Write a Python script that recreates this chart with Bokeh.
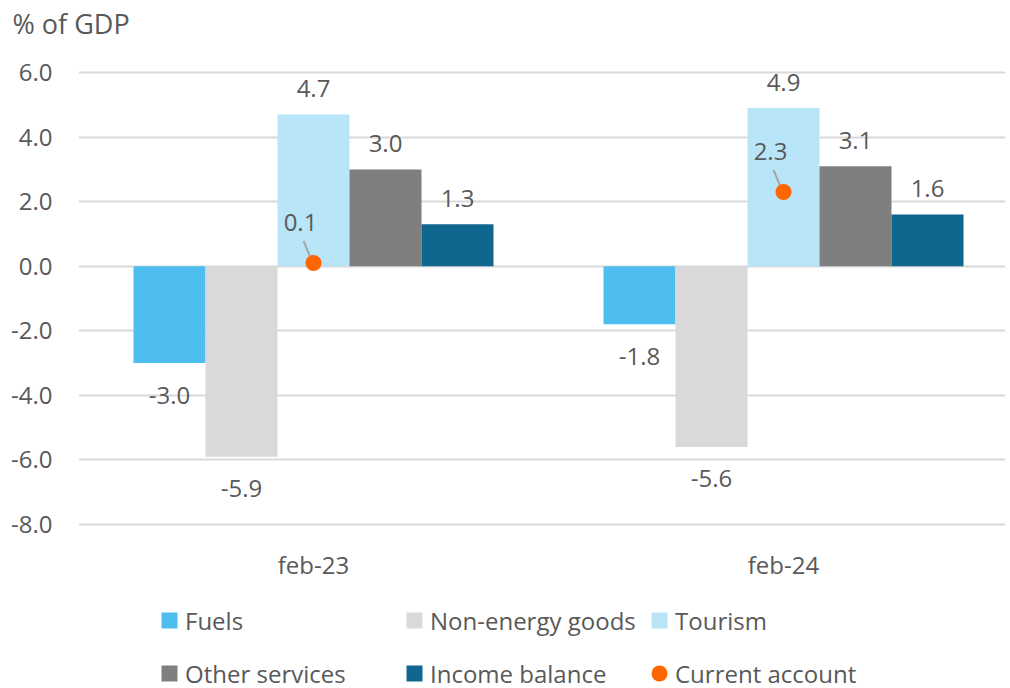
from bokeh.plotting import figure
from bokeh.models import Range1d, FixedTicker, NumeralTickFormatter, Legend, LegendItem, Title
from bokeh.core.properties import value
from bokeh.embed import file_html
from bokeh.resources import INLINE

# ---------------- data ----------------
categories = ["feb-23", "feb-24"]
series = ["Fuels", "Non-energy goods", "Tourism", "Other services", "Income balance"]
fuels = [-3.0, -1.8]
non_energy_goods = [-5.9, -5.6]
tourism = [4.7, 4.9]
other_services = [3.0, 3.1]
income_balance = [1.3, 1.6]
current_account = [0.1, 2.3]
y_ticks = [-8, -6, -4, -2, 0, 2, 4, 6]

series_values = [fuels, non_energy_goods, tourism, other_services, income_balance]
colors = ["#4DBEEE", "#D9D9D9", "#B9E5F9", "#7F7F7F", "#0F6790"]
ca_color = "#FF6600"

# ---------------- layout ----------------
W, H = 1010, 688
LEFT, TOP = 78, 64
FW = 927
FH = H - TOP                  # frame runs to the bottom; legend lives inside it
PAD_Y = 0.25
PX_X = 470.0                  # pixels per category
X_END = FW / PX_X
PX_Y = 468 / (y_ticks[-1] - y_ticks[0] + 2 * PAD_Y)
Y_END = y_ticks[-1] + PAD_Y
Y_START = Y_END - FH / PX_Y
BAR_W = 72 / PX_X

FONT_NAME = "Open Sans"
FONT = value(FONT_NAME)
TXT = "#595959"
FS = "24px"

p = figure(width=W, height=H, x_range=Range1d(0, X_END), y_range=Range1d(Y_START, Y_END),
           output_backend="svg", toolbar_location=None,
           min_border_left=LEFT, min_border_right=W - LEFT - FW,
           min_border_top=TOP, min_border_bottom=0)
p.outline_line_color = None
p.background_fill_color = "white"
p.border_fill_color = "white"

# title (outermost) and an invisible spacer between it and the frame
p.title.text = "% of GDP"
p.title.text_font = FONT_NAME
p.title.text_font_size = "27px"
p.title.text_font_style = "normal"
p.title.text_color = TXT
p.title.align = "left"
p.title.offset = -66
p.title.standoff = 0
p.add_layout(Title(text=" ", text_font_size="1px", standoff=20), "above")

xc = [i + 0.5 for i in range(len(categories))]

bar_renderers = []
for k, (vals, col) in enumerate(zip(series_values, colors)):
    xs = [c + (k - 2) * BAR_W for c in xc]
    r = p.vbar(x=xs, top=vals, bottom=0, width=BAR_W, fill_color=col, line_color=None)
    bar_renderers.append(r)
    p.text(x=xs, y=vals, text=[f"{v:.1f}" for v in vals],
           y_offset=[-26 if v >= 0 else 32 for v in vals],
           text_align="center", text_baseline="middle", text_font=FONT,
           text_font_size=FS, text_color=TXT)

# leader lines for current account labels
p.segment(x0=[c - 10 / PX_X for c in xc], y0=[v + 22 / PX_Y for v in current_account],
          x1=[c - 2 / PX_X for c in xc], y1=[v + 3 / PX_Y for v in current_account],
          line_color="#A6A6A6", line_width=2)
dot = p.ellipse(x=xc, y=current_account, width=16, height=16,
                width_units="screen", height_units="screen",
                fill_color=ca_color, line_color=None)
p.text(x=xc, y=current_account, text=[f"{v:.1f}" for v in current_account],
       x_offset=-13, y_offset=-40, text_align="center", text_baseline="middle",
       text_font=FONT, text_font_size=FS, text_color=TXT)

# axes
p.xgrid.grid_line_color = None
p.yaxis.ticker = FixedTicker(ticks=y_ticks)
p.yaxis.formatter = NumeralTickFormatter(format="0.0")
p.ygrid.grid_line_color = "#D9D9D9"
p.ygrid.grid_line_width = 2
p.xaxis.ticker = FixedTicker(ticks=xc)
p.xaxis.major_label_overrides = {x: c for x, c in zip(xc, categories)}
p.xaxis.fixed_location = y_ticks[0] - PAD_Y
for ax in (p.xaxis, p.yaxis):
    ax.axis_line_color = None
    ax.major_tick_line_color = None
    ax.minor_tick_line_color = None
    ax.major_tick_out = 0
    ax.major_tick_in = 0
    ax.major_label_text_font = FONT_NAME
    ax.major_label_text_font_size = FS
    ax.major_label_text_color = TXT
p.yaxis.major_label_standoff = 26
p.xaxis.major_label_standoff = 15

# legend (inside the frame, below the category labels)
items = [LegendItem(label=s, renderers=[r]) for s, r in zip(series, bar_renderers)]
items.append(LegendItem(label="Current account", renderers=[dot]))
leg = Legend(items=items, orientation="horizontal", ncols=3, location=(81, -9),
             glyph_width=20, glyph_height=20, label_height=48, label_width=214,
             label_standoff=6, spacing=5, padding=0, margin=0,
             background_fill_alpha=0, border_line_alpha=0,
             label_text_font=FONT_NAME, label_text_font_size=FS, label_text_color=TXT)
p.add_layout(leg)

open("out.html", "w").write(file_html(p, INLINE))
